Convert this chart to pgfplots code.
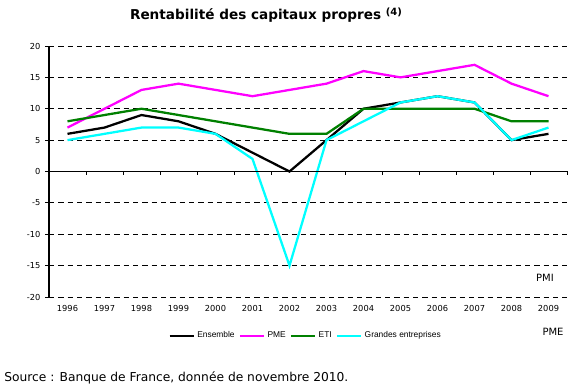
\documentclass[border=0pt]{standalone}
\usepackage{fontspec}
\setmainfont{DejaVu Sans}
\newfontfamily\legfont{Liberation Sans}
\usepackage{pgfplots}
\pgfplotsset{compat=1.18}
\definecolor{cEns}{RGB}{0,0,0}
\definecolor{cPME}{RGB}{255,0,255}
\definecolor{cETI}{RGB}{0,128,0}
\definecolor{cGE}{RGB}{0,255,255}
\begin{document}
\begin{tikzpicture}[x=0.75pt,y=0.75pt]
\useasboundingbox (0,0) rectangle (588,391);
\begin{axis}[
  at={(36.75pt,70.5pt)}, anchor=south west,
  scale only axis, width=388.5pt, height=188.25pt,
  xmin=-0.5, xmax=13.5, ymin=-20, ymax=20,
  xtick={0,...,13},
  xticklabels={1996,1997,1998,1999,2000,2001,2002,2003,2004,2005,2006,2007,2008,2009},
  ytick={-20,-15,...,20},
  yticklabels={-20,-15,-10,-5,0,5,10,15,20},
  axis x line*=bottom,
  axis y line*=left,
  x axis line style={draw=none},
  y axis line style={line width=0.8pt, -},
  tick label style={font=\fontsize{6.2}{7}\selectfont},
  ymajorgrids,
  major grid style={black, line width=0.6pt, dash pattern=on 4pt off 3pt},
  ytick style={black, line width=0.6pt},
  xtick style={draw=none},
  tick align=outside,
  major tick length=3pt,
  clip=false,
  legend style={at={(0.496,-0.155)}, anchor=center, draw=none, fill=none,
    legend columns=4, font=\legfont\fontsize{6.3}{7}\selectfont,
    inner xsep=0pt,
    /tikz/every even column/.append style={column sep=1pt}},
  legend image code/.code={\draw[#1] (0,0) -- (18pt,0);},
]
\addplot[cEns, line width=1.7pt] coordinates {(0,6)(1,7)(2,9)(3,8)(4,6)(5,3)(6,0)(7,5)(8,10)(9,11)(10,12)(11,11)(12,5)(13,6)};
\addplot[cPME, line width=1.7pt] coordinates {(0,7)(1,10)(2,13)(3,14)(4,13)(5,12)(6,13)(7,14)(8,16)(9,15)(10,16)(11,17)(12,14)(13,12)};
\addplot[cETI, line width=1.7pt] coordinates {(0,8)(1,9)(2,10)(3,9)(4,8)(5,7)(6,6)(7,6)(8,10)(9,10)(10,10)(11,10)(12,8)(13,8)};
\addplot[cGE, line width=1.7pt] coordinates {(0,5)(1,6)(2,7)(3,7)(4,6)(5,2)(6,-15)(7,5)(8,8)(9,11)(10,12)(11,11)(12,5)(13,7)};
\legend{Ensemble,PME,ETI,Grandes entreprises}
\draw[black, line width=0.8pt] (axis cs:-0.5,0) -- (axis cs:13.5,0);
\pgfplotsinvokeforeach{0.5,1.5,2.5,3.5,4.5,5.5,6.5,7.5,8.5,9.5,10.5,11.5,12.5,13.5}{
  \draw[black, line width=0.6pt] (axis cs:#1,0) -- ([yshift=-3pt]axis cs:#1,0);
}
\end{axis}
\node[font=\bfseries\fontsize{10.2}{12}\selectfont] at (266,376) {Rentabilité des capitaux propres \raisebox{0.5ex}{\fontsize{7.5}{8}\selectfont(4)}};
\node[font=\fontsize{7.5}{9}\selectfont] at (545,113) {PMI};
\node[font=\fontsize{7.5}{9}\selectfont] at (553,59) {PME};
\node[font=\fontsize{9.2}{11}\selectfont, anchor=west, inner sep=0pt] at (4,13) {Source : Banque de France, donnée de novembre 2010.};
\end{tikzpicture}
\end{document}
